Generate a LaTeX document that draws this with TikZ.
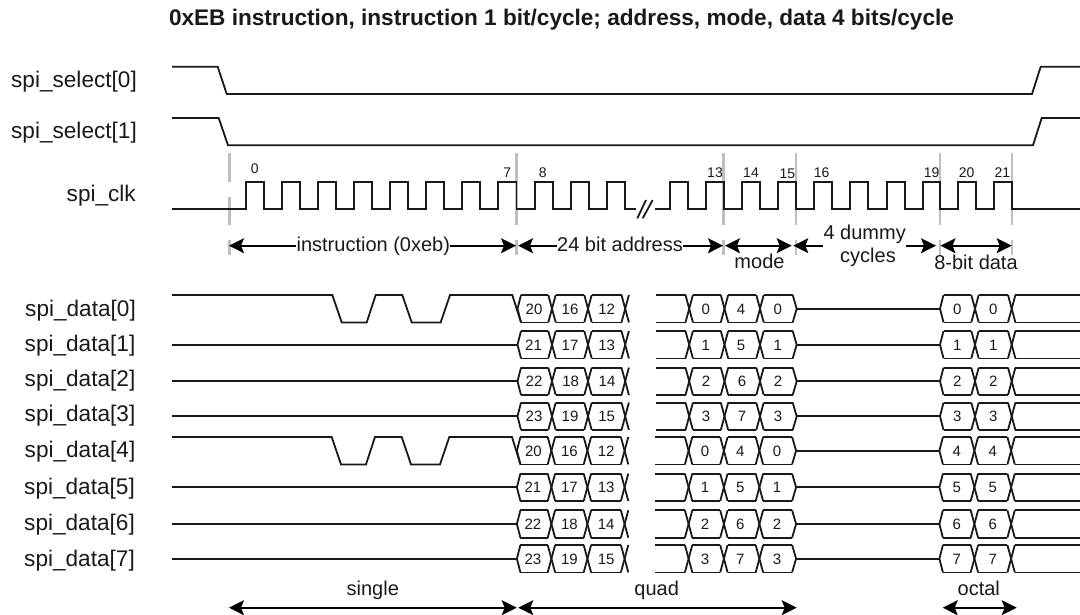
\documentclass[tikz,border=0pt]{standalone}
\usepackage{fontspec}
\setmainfont{Liberation Sans}
\usetikzlibrary{arrows.meta}
\tikzset{
  x=1pt,y=-1pt,
  wave/.style={line width=1.8pt,black!90,line join=miter},
  guide/.style={line width=2.6pt,gray!50},
  span/.style={line width=1.7pt,black,{Stealth[length=15pt,width=15pt,inset=3pt]}-{Stealth[length=15pt,width=15pt,inset=3pt]}},
  spanl/.style={line width=1.7pt,black,{Stealth[length=15pt,width=15pt,inset=3pt]}-},
  spanr/.style={line width=1.7pt,black,-{Stealth[length=15pt,width=15pt,inset=3pt]}},
  sig/.style={anchor=base east,inner sep=0pt,font=\fontsize{22.6}{24}\selectfont,text=black!90},
  lab/.style={anchor=base,inner sep=0pt,font=\fontsize{20}{22}\selectfont,text=black!90},
  num/.style={anchor=base,inner sep=0pt,font=\fontsize{14}{16}\selectfont,text=black!90},
  bit/.style={anchor=base,inner sep=0pt,font=\fontsize{15}{17}\selectfont,text=black!90},
}
\newcommand{\xcross}[2]{%
  \draw[wave] (#1-3.7,#2-13.7) -- (#1+3.7,#2+13.7);
  \draw[wave] (#1-3.7,#2+13.7) -- (#1+3.7,#2-13.7);}
\newcommand{\rails}[3]{%
  \draw[wave] (#1,#3-13.7) -- (#2,#3-13.7);
  \draw[wave] (#1,#3+13.7) -- (#2,#3+13.7);}
% \busrow{centre y}{dx}{first group}{second group}{third group}
\newcommand{\busrow}[5]{%
 \begin{scope}[xshift=#2pt]
  \draw[wave] (521,#1-13.7) -- (517.5,#1) -- (521,#1+13.7);
  \rails{521}{548.3}{#1}\xcross{552}{#1}\rails{555.7}{584.3}{#1}\xcross{588}{#1}\rails{591.7}{621.5}{#1}\xcross{625.2}{#1}
  \rails{656}{685.5}{#1}\xcross{689.2}{#1}\rails{692.9}{720.8}{#1}\xcross{724.5}{#1}\rails{728.2}{756.3}{#1}\xcross{760}{#1}\rails{763.7}{792.7}{#1}
  \draw[wave] (792.7,#1-13.7) -- (796.7,#1) -- (792.7,#1+13.7);
  \draw[wave] (796.7,#1) -- (940,#1);
  \draw[wave] (943.5,#1-13.7) -- (940,#1) -- (943.5,#1+13.7);
  \rails{943.5}{971.3}{#1}\xcross{975}{#1}\rails{978.7}{1008}{#1}\xcross{1011.7}{#1}
 \end{scope}
 \foreach \t/\x in {#3} {\node[bit] at (\x+#2,#1+5.4) {\t};}
 \foreach \t/\x in {#4} {\node[bit] at (\x+#2,#1+5.4) {\t};}
 \foreach \t/\x in {#5} {\node[bit] at (\x+#2,#1+5.4) {\t};}
 \draw[wave] (1015.4,#1-13.7) -- (1080,#1-13.7);
 \draw[wave] (1015.4,#1+13.7) -- (1080,#1+13.7);
}
\newcommand{\idleline}[2]{\draw[wave] (172,#1) -- (517.5+#2,#1);}
\begin{document}
\begin{tikzpicture}
\useasboundingbox (0,0) rectangle (1080,615);
% title
\node[anchor=base,inner sep=0pt,font=\bfseries\fontsize{22.6}{24}\selectfont,text=black!90] (title) at (561.5,26) {0xEB instruction, instruction 1 bit/cycle; address, mode, data 4 bits/cycle};
% signal names
\node[sig] (n1) at (137,87.3) {spi\_select[0]};
\node[sig] (n2) at (137,138.3) {spi\_select[1]};
\node[sig] (n3) at (136,201) {spi\_clk};
\node[sig] (d0) at (136,316) {spi\_data[0]};
\node[sig] (d1) at (135.5,351) {spi\_data[1]};
\node[sig] (d2) at (135.5,386.7) {spi\_data[2]};
\node[sig] (d3) at (135.5,421.7) {spi\_data[3]};
\node[sig] (d4) at (135.5,457.7) {spi\_data[4]};
\node[sig] (d5) at (135,494) {spi\_data[5]};
\node[sig] (d6) at (135,530) {spi\_data[6]};
\node[sig] (d7) at (135,566) {spi\_data[7]};
% guides
\draw[guide] (229.3,153) -- (229.3,182);
\draw[guide] (229.3,197) -- (229.3,225);
\draw[guide] (229.3,240) -- (229.3,255);
\foreach \x in {516.7,723.7,796,940,1012} {
  \draw[guide] (\x,153) -- (\x,225);
  \draw[guide] (\x,240) -- (\x,255);
}
% selects
\draw[wave] (172,66.7) -- (217.7,66.7) -- (226.7,94) -- (1032,94) -- (1040.7,66.7) -- (1080,66.7);
\draw[wave] (172,118) -- (218.7,118) -- (228,145.3) -- (1033,145.3) -- (1041.7,118) -- (1080,118);
% clock
\def\hi{181.7}\def\lo{209}
\draw[wave] (172,\lo)
  -- (246,\lo) -- (246,\hi) -- (264,\hi) -- (264,\lo)
  -- (282,\lo) -- (282,\hi) -- (300,\hi) -- (300,\lo)
  -- (318,\lo) -- (318,\hi) -- (336,\hi) -- (336,\lo)
  -- (354,\lo) -- (354,\hi) -- (372,\hi) -- (372,\lo)
  -- (390,\lo) -- (390,\hi) -- (408,\hi) -- (408,\lo)
  -- (426,\lo) -- (426,\hi) -- (444,\hi) -- (444,\lo)
  -- (462,\lo) -- (462,\hi) -- (480,\hi) -- (480,\lo)
  -- (498,\lo) -- (498,\hi) -- (516.5,\hi) -- (516.5,\lo)
  -- (535,\lo) -- (535,\hi) -- (552.7,\hi) -- (552.7,\lo)
  -- (570.7,\lo) -- (570.7,\hi) -- (589,\hi) -- (589,\lo)
  -- (606.7,\lo) -- (606.7,\hi) -- (625,\hi) -- (625,\lo) -- (636,\lo);
\draw[wave] (637.3,218.3) -- (646,200);
\draw[wave] (642.7,218.3) -- (652.7,200);
\draw[wave] (655,\lo)
  -- (670,\lo) -- (670,\hi) -- (688,\hi) -- (688,\lo)
  -- (706,\lo) -- (706,\hi) -- (723.7,\hi) -- (723.7,\lo)
  -- (742,\lo) -- (742,\hi) -- (760,\hi) -- (760,\lo)
  -- (778,\lo) -- (778,\hi) -- (796,\hi) -- (796,\lo)
  -- (814,\lo) -- (814,\hi) -- (832,\hi) -- (832,\lo)
  -- (850,\lo) -- (850,\hi) -- (868,\hi) -- (868,\lo)
  -- (886.7,\lo) -- (886.7,\hi) -- (905,\hi) -- (905,\lo)
  -- (922.7,\lo) -- (922.7,\hi) -- (940,\hi) -- (940,\lo)
  -- (958,\lo) -- (958,\hi) -- (976,\hi) -- (976,\lo)
  -- (994,\lo) -- (994,\hi) -- (1012,\hi) -- (1012,\lo) -- (1080,\lo);
% clock numbers
\node[num] (c0) at (254.7,174) {0};
\foreach \t/\x/\y in {7/507.3/177.3,8/542.7/177.3,13/715/177.7,14/751/177.7,15/787.3/178.3,16/821.7/178,19/931.7/177.7,20/966.7/177.7,21/1002.3/177.7}
  \node[num] (c\t) at (\x,\y) {\t};
% span arrows
\coordinate (a0) at (229,245.7);
\coordinate (a1) at (516,245.7);
\coordinate (a2) at (518,245.7);
\coordinate (a3) at (723,245.7);
\coordinate (a4) at (725,245.7);
\coordinate (a5) at (791.7,245.7);
\coordinate (a6) at (793.3,245.7);
\coordinate (a7) at (822.7,245.7);
\coordinate (a8) at (906,245.7);
\coordinate (a9) at (936,245.7);
\coordinate (a10) at (940.5,245.7);
\coordinate (a11) at (1011.7,245.7);
\node[lab] (instr) at (373.3,251.7) {instruction (0xeb)};
\node[lab] (addr) at (620,251.7) {24 bit address};
\node[lab] (mode) at (759.5,269) {mode};
\node[lab] (dum1) at (864.7,240) {4 dummy};
\node[lab] (dum2) at (868,262.3) {cycles};
\node[lab] (data8) at (976,269.3) {8-bit data};
\draw[spanl] (a0) -- (instr.west |- a0);
\draw[spanr] (instr.east |- a0) -- (a1);
\draw[spanl] (a2) -- (addr.west |- a2);
\draw[spanr] (addr.east |- a2) -- (a3);
\draw[span] (a4) -- (a5);
\draw[spanl] (a6) -- (a7);
\draw[spanr] (a8) -- (a9);
\draw[span] (a10) -- (a11);
% data rows
\draw[wave] (172,295) -- (332.3,295) -- (341.7,322.4) -- (366.7,322.4) -- (375.7,295) -- (402.3,295) -- (411.7,322.4) -- (440.7,322.4) -- (450,295) -- (512.3,295) -- (521,322.4);
\draw[wave] (172,437) -- (331.7,437) -- (341,464.4) -- (366,464.4) -- (375,437) -- (401.7,437) -- (411,464.4) -- (440,464.4) -- (449.3,437) -- (512,437) -- (520.4,464.4);
\idleline{344.7}{0}\idleline{381.3}{0}\idleline{416.3}{0}
\idleline{487.3}{-0.6}\idleline{524}{-0.6}\idleline{558.7}{-0.6}
\busrow{308.7}{0}{20/534,16/570,12/606.7}{0/705.7,4/741,0/777.7}{0/957.3,0/993.3}
\busrow{344.7}{0}{21/533.5,17/570,13/606.7}{1/705.7,5/741,1/777.7}{1/957.3,1/993.3}
\busrow{381.3}{0}{22/534,18/570.7,14/607}{2/706,6/742,2/778}{2/957.3,2/993.3}
\busrow{416.3}{0}{23/534,19/570,15/606.7}{3/706,7/742,3/778}{3/957.3,3/993.3}
\busrow{450.7}{-0.6}{20/534,16/570,12/606.7}{0/705.7,4/741,0/777.7}{4/957.3,4/993.3}
\busrow{487.3}{-0.6}{21/533.5,17/570,13/606.7}{1/705.7,5/741,1/777.7}{5/957.3,5/993.3}
\busrow{524}{-0.6}{22/533.5,18/570,14/606.7}{2/705.7,6/741,2/777.7}{6/957.3,6/993.3}
\busrow{558.7}{-0.6}{23/533.5,19/570,15/606.7}{3/705.7,7/741,3/777.7}{7/957.3,7/993.3}
% bottom
\node[lab] (single) at (372.8,595.7) {single};
\node[lab] (quad) at (656.7,595.7) {quad};
\node[lab] (octal) at (978.8,595.7) {octal};
\coordinate (b0) at (229,607.7);
\coordinate (b1) at (516.7,607.7);
\coordinate (b2) at (518.3,607.7);
\coordinate (b3) at (796.7,607.7);
\coordinate (b4) at (942.7,607.7);
\coordinate (b5) at (1016.7,607.7);
\draw[span] (b0) -- (b1);
\draw[span] (b2) -- (b3);
\draw[span] (b4) -- (b5);
\end{tikzpicture}
\end{document}
